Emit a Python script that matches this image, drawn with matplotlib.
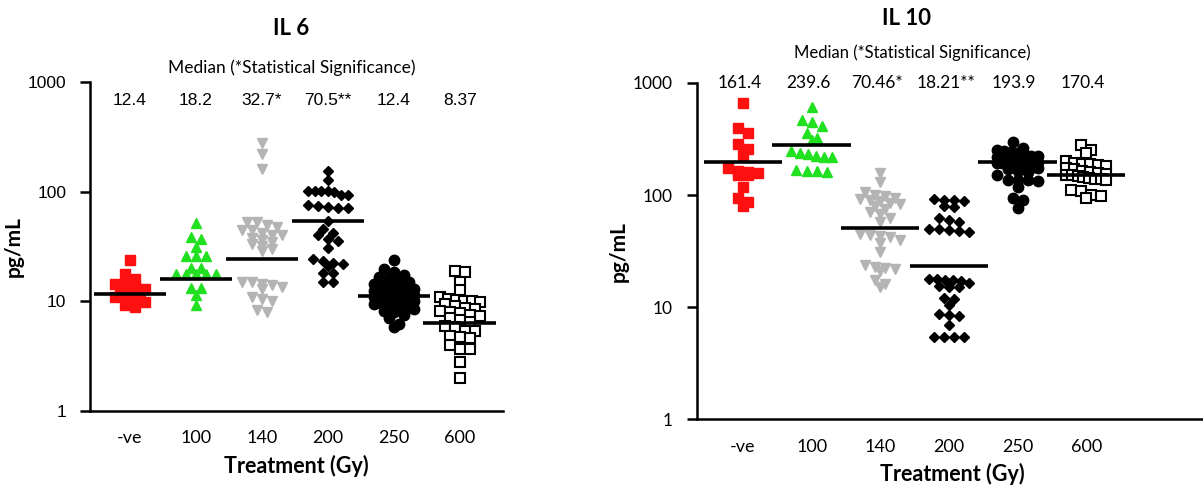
import numpy as np
from matplotlib import pyplot as plt

groups = ["-ve", "100", "140", "200", "250", "600"]

# IL 6 values (pg/mL)
il6_neg = [23.6, 17.9, 16.1, 14.5, 14.0, 13.4, 13.0, 12.6, 12.2, 11.8, 11.0, 10.9, 10.5, 9.9, 9.2, 8.9]
il6_100 = [51.9, 38.4, 37.0, 31.2, 25.7, 25.7, 25.7, 20.0, 20.0, 17.6, 17.6, 17.6, 17.6, 17.6, 13.1, 13.1, 11.3, 9.2]
il6_140 = [275, 219, 162, 53, 53, 50, 48, 45, 45, 42, 40, 40, 38, 36, 35, 33, 32, 30, 29,
           15, 15, 14.5, 14, 13.5, 13, 11, 10.5, 10, 8.3, 8.0]
il6_200 = [153, 128, 101, 101, 101, 101, 100, 93, 93, 75, 74, 72, 71, 71, 53.7, 46, 42, 40, 37, 35.3,
           30.3, 24.5, 23.5, 22.5, 22, 21, 18.1, 18.1, 14.9, 14.9]
il6_250 = [23.6, 19.5, 18.5, 17.5, 16.5, 16, 15.5, 15, 14.5, 14, 14, 13.5, 13, 13, 12.5, 12.5, 12, 12,
           11.5, 11.5, 11, 11, 11, 10.5, 10.5, 10, 10, 10, 9.5, 9.5, 9, 9, 8.5, 8.5, 8.2, 8.0, 7.5, 7,
           6.2, 5.8]
il6_600 = [19, 18.5, 15, 12.6, 11, 10.5, 10.2, 10, 10, 9.8, 9.5, 9, 8.6, 8.5, 8.2, 8, 7.8, 7.5, 7.3,
           7, 6.8, 6.5, 6, 5.8, 5.4, 5.3, 4.8, 4.7, 4.6, 4.0, 3.7, 3.7, 2.8, 2.0]
il6_lines = [11.6, 15.8, 24.1, 53.4, 11.1, 6.3]
il6_labels = ["12.4", "18.2", "32.7*", "70.5**", "12.4", "8.37"]

# IL 10 values (pg/mL)
il10_neg = [660, 400, 360, 285, 255, 228, 175, 165, 160, 158, 150, 150, 119, 94, 86, 80]
il10_100 = [615, 465, 445, 415, 360, 320, 310, 245, 235, 230, 225, 220, 218, 168, 165, 163, 162]
il10_140 = [157, 131, 106, 100, 98, 95, 92, 90, 88, 85, 84, 80, 75, 70, 68, 62, 57, 45, 44, 43, 42,
            40, 37, 31, 24, 23, 22.5, 22, 21, 17.5, 16, 15]
il10_200 = [90, 90, 92, 88, 80, 78, 62, 60, 58, 50, 50, 49, 48, 47,
            18, 18, 17.5, 17.5, 17, 16.5, 15.5, 15, 15, 12, 11.8, 10.4, 8.6, 8.5, 8.4, 6.9,
            5.4, 5.4, 5.4, 5.4]
il10_250 = [298, 265, 250, 245, 240, 235, 230, 225, 222, 220, 218, 215, 212, 210, 208, 205, 203, 200,
            198, 196, 194, 192, 190, 188, 185, 182, 180, 178, 175, 170, 165, 160, 150, 137, 135, 135,
            133, 118, 94, 90, 77]
il10_600 = [280, 250, 237, 200, 195, 190, 188, 185, 180, 175, 170, 165, 160, 158, 155, 152, 150, 148,
            145, 143, 140, 138, 135, 110, 108, 100, 98, 95]
il10_lines = [197, 279, 50.7, 23.2, 197, 151]
il10_labels = ["161.4", "239.6", "70.46*", "18.21**", "193.9", "170.4"]

styles = [
    dict(marker="s", color="#ff1010", mec="#ff1010", ms=7),
    dict(marker="^", color="#20e020", mec="#20e020", ms=7),
    dict(marker="v", color="#b4b4b4", mec="#b4b4b4", ms=7),
    dict(marker="D", color="black", mec="black", ms=5),
    dict(marker="o", color="black", mec="black", ms=7.5),
    dict(marker="s", color="white", mec="black", ms=6.5, mew=1.5),
]

CAL = "Lato"
ARI = "Liberation Sans"


def swarm(vals, px_dec, px_unit, row_h=6.0, step=10.0, max_half=20.0):
    # rows of points with close values, spread sideways around the centre
    ys = np.log10(np.array(vals, dtype=float)) * px_dec
    order = np.argsort(-ys)
    xs = np.zeros(len(ys))
    rows = []
    for i in order:
        if rows and rows[-1][0] - ys[i] < row_h:
            rows[-1][1].append(i)
        else:
            rows.append([ys[i], [i]])
    for _, idx in rows:
        n = len(idx)
        st = step if n < 2 else min(step, 2 * max_half / (n - 1))
        for k, i in enumerate(idx):
            xs[i] = (k - (n - 1) / 2.0) * st / px_unit
    return xs


def draw_panel(ax, data, lines, px_dec, px_unit, tick_font, hw):
    cats = np.arange(len(groups))
    for i, vals in enumerate(data):
        offs = swarm(vals, px_dec, px_unit)
        ax.plot(cats[i] + offs, vals, linestyle="none", zorder=3, **styles[i])
    ax.hlines(lines, cats - hw, cats + hw, colors="black", lw=2.6, zorder=4)
    ax.set_yscale("log")
    ax.set_ylim(1, 1000)
    ax.set_yticks([1, 10, 100, 1000])
    ax.set_yticklabels(["1", "10", "100", "1000"], family=tick_font, fontsize=12.5)
    ax.minorticks_off()
    ax.set_xticks(cats)
    ax.set_xticklabels(groups, family=CAL, fontsize=13)
    ax.tick_params(axis="x", length=0, pad=14)
    ax.tick_params(axis="y", length=7, width=1.8, pad=10)
    for s in ["top", "right"]:
        ax.spines[s].set_visible(False)
    for s in ["left", "bottom"]:
        ax.spines[s].set_linewidth(1.8)
    ax.set_xlabel("Treatment (Gy)", family=CAL, fontsize=15.5, fontweight="bold", labelpad=6)
    ax.set_ylabel("pg/mL", family=CAL, fontsize=15, fontweight="bold", labelpad=3)
    return cats


fig = plt.figure(figsize=(12.03, 4.88), dpi=100)

ax1 = fig.add_axes([0.0748, 0.158, 0.343, 0.674])
ax1.set_xlim(-0.606, 5.65)
c = draw_panel(ax1, [il6_neg, il6_100, il6_140, il6_200, il6_250, il6_600],
               il6_lines, 110, 66, ARI, 0.55)
for i, t in enumerate(il6_labels):
    ax1.text(c[i], 0.945, t, transform=ax1.get_xaxis_transform(), ha="center", va="center",
             family=ARI, fontsize=12.5)
ax1.text(2.45, 1.043, "Median (*Statistical Significance)", transform=ax1.get_xaxis_transform(),
         ha="center", va="center", family=CAL, fontsize=12.5)
ax1.text(2.45, 1.164, "IL 6", transform=ax1.get_xaxis_transform(), ha="center", va="center",
         family=CAL, fontsize=16, fontweight="bold")

ax2 = fig.add_axes([0.579, 0.141, 0.425, 0.689])
ax2.set_xlim(-0.676, 6.77)
c = draw_panel(ax2, [il10_neg, il10_100, il10_140, il10_200, il10_250, il10_600],
               il10_lines, 112, 68, CAL, 0.57)
for i, t in enumerate(il10_labels):
    ax2.text(c[i] - 0.05, 1.0, t, transform=ax2.get_xaxis_transform(), ha="center", va="center",
             family=CAL, fontsize=12.5)
ax2.text(2.47, 1.089, "Median (*Statistical Significance)", transform=ax2.get_xaxis_transform(),
         ha="center", va="center", family=CAL, fontsize=12)
ax2.text(2.38, 1.193, "IL 10", transform=ax2.get_xaxis_transform(), ha="center", va="center",
         family=CAL, fontsize=16, fontweight="bold")

fig.savefig("out.png", dpi=100)
